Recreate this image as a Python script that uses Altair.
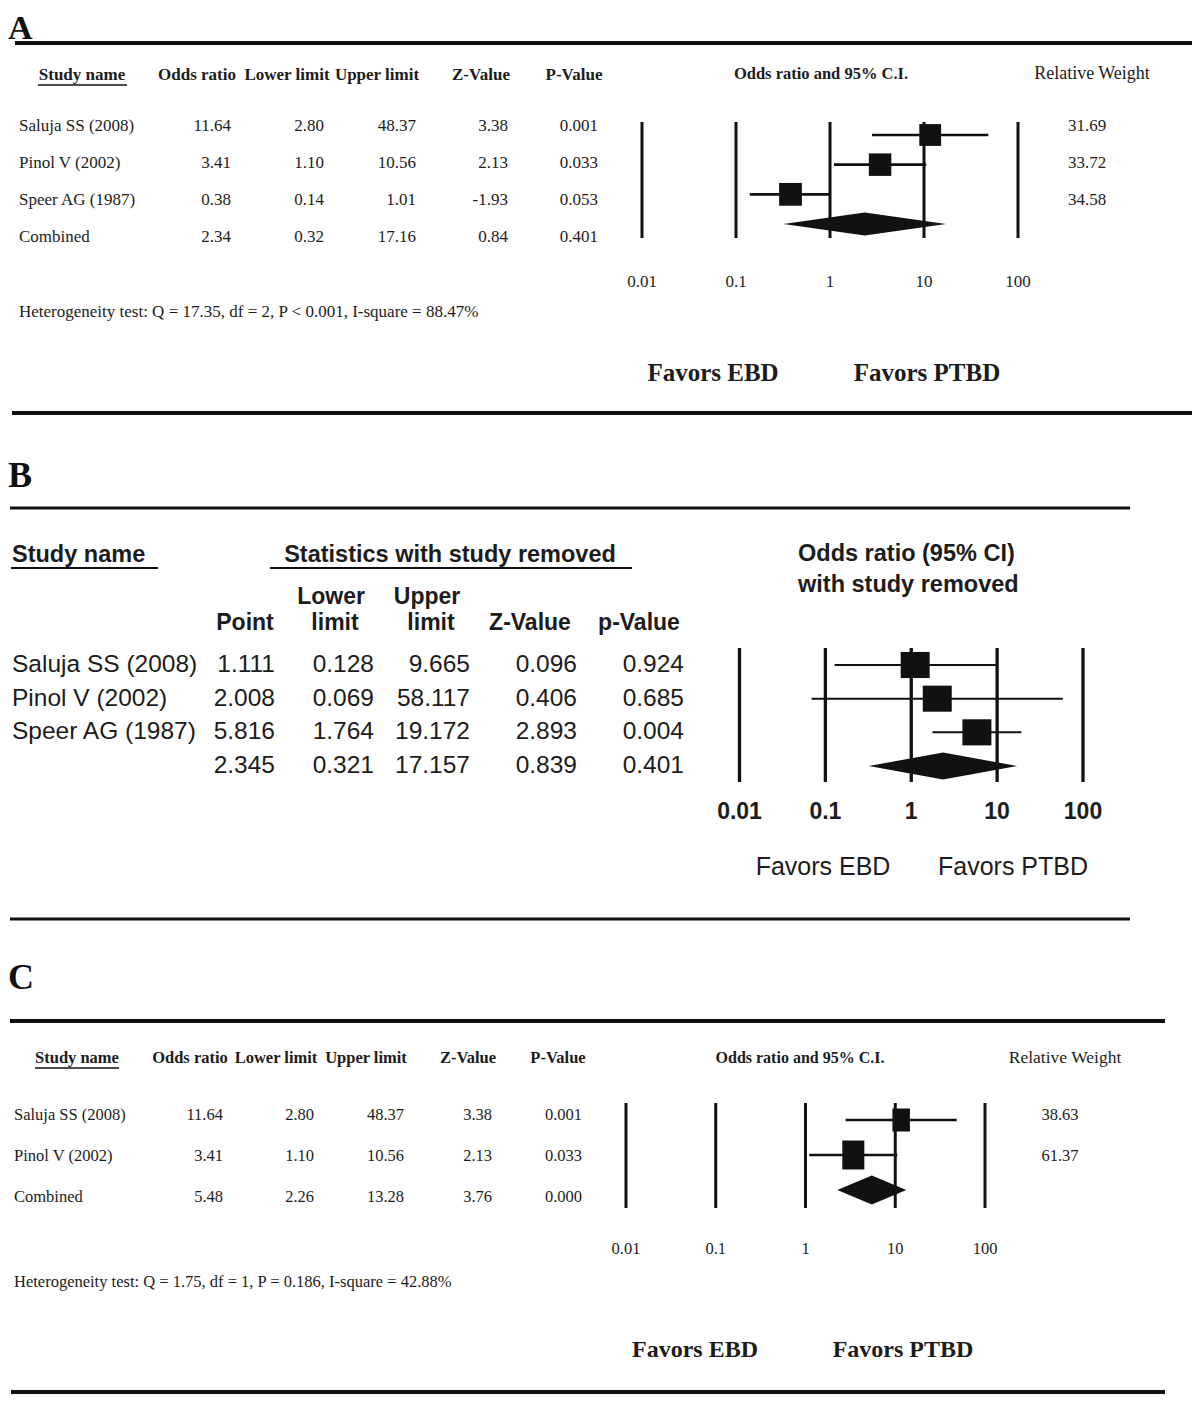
import altair as alt
import pandas as pd

# ---------------- data ----------------
panel_letters = ["A", "B", "C"]
ticks = [0.01, 0.1, 1, 10, 100]
tick_labels = ["0.01", "0.1", "1", "10", "100"]
favors = ["Favors EBD", "Favors PTBD"]

headers_AC = ["Study name", "Odds ratio", "Lower limit", "Upper limit", "Z-Value", "P-Value"]
forest_title_AC = "Odds ratio and 95% C.I."
weight_title = "Relative Weight"

studies_A = ["Saluja SS (2008)", "Pinol V (2002)", "Speer AG (1987)", "Combined"]
or_A = [11.64, 3.41, 0.38, 2.34]
lo_A = [2.80, 1.10, 0.14, 0.32]
hi_A = [48.37, 10.56, 1.01, 17.16]
z_A = [3.38, 2.13, -1.93, 0.84]
p_A = [0.001, 0.033, 0.053, 0.401]
w_A = [31.69, 33.72, 34.58]
het_A = "Heterogeneity test: Q = 17.35, df = 2, P < 0.001, I-square = 88.47%"

headers_B_top = ["Study name", "Statistics with study removed"]
headers_B_line1 = ["Lower", "Upper"]
headers_B_line2 = ["Point", "limit", "limit", "Z-Value", "p-Value"]
forest_title_B = ["Odds ratio (95% CI)", "with study removed"]
studies_B = ["Saluja SS (2008)", "Pinol V (2002)", "Speer AG (1987)", ""]
pt_B = [1.111, 2.008, 5.816, 2.345]
lo_B = [0.128, 0.069, 1.764, 0.321]
hi_B = [9.665, 58.117, 19.172, 17.157]
z_B = [0.096, 0.406, 2.893, 0.839]
p_B = [0.924, 0.685, 0.004, 0.401]

studies_C = ["Saluja SS (2008)", "Pinol V (2002)", "Combined"]
or_C = [11.64, 3.41, 5.48]
lo_C = [2.80, 1.10, 2.26]
hi_C = [48.37, 10.56, 13.28]
z_C = [3.38, 2.13, 3.76]
p_C = [0.001, 0.033, 0.000]
w_C = [38.63, 61.37]
het_C = "Heterogeneity test: Q = 1.75, df = 1, P = 0.186, I-square = 42.88%"

# ---------------- helpers ----------------
OFF = 8
INK = "#111111"
TXT = "#1c1c1c"
SERIF = "Liberation Serif"
SANS = "Liberation Sans"


def P(v):
    return v - OFF


def one(t=""):
    return alt.Data(values=[{"t": t}])


def label(text, x, y, size, font, bold=False, align="center", color=TXT, baseline="middle"):
    return alt.Chart(one(text)).mark_text(
        font=font, fontSize=size, fontWeight="bold" if bold else "normal",
        align=align, baseline=baseline, color=color
    ).encode(x=alt.value(P(x)), y=alt.value(P(y)), text="t:N")


def hline(x1, x2, y, w):
    return alt.Chart(one()).mark_rule(color=INK, strokeWidth=w).encode(
        x=alt.value(P(x1)), x2=alt.value(P(x2)), y=alt.value(P(y)))


def rows_scale(n, y0, y1):
    return alt.Scale(domain=[0, n - 1], range=[P(y0), P(y1)], zero=False, nice=False)


def column(texts, x, yscale, size, font, align="right", color=TXT):
    df = pd.DataFrame({"row": list(range(len(texts))), "t": texts})
    return alt.Chart(df).mark_text(
        font=font, fontSize=size, align=align, baseline="middle", color=color
    ).encode(x=alt.value(P(x)), y=alt.Y("row:Q", scale=yscale, axis=None), text="t:N")


def forest(pt, lo, hi, n_st, weights, xr, yr, vy, tick_y, tick_font, tick_size,
           tick_bold, line_w, ci_w, shape, size_k, const_size, diamond_px):
    n = len(pt)
    xs = alt.Scale(type="log", domain=[0.01, 100], range=[P(xr[0]), P(xr[1])], nice=False)
    ys = rows_scale(n, yr[0], yr[1])
    out = []
    tdf = pd.DataFrame({"v": ticks, "lab": tick_labels})
    out.append(alt.Chart(tdf).mark_rule(color=INK, strokeWidth=line_w).encode(
        x=alt.X("v:Q", scale=xs, axis=None), y=alt.value(P(vy[0])), y2=alt.value(P(vy[1]))))
    out.append(alt.Chart(tdf).mark_text(
        font=tick_font, fontSize=tick_size, fontWeight="bold" if tick_bold else "normal",
        baseline="middle", color=TXT).encode(
        x=alt.X("v:Q", scale=xs, axis=None), y=alt.value(P(tick_y)), text="lab:N"))
    sdf = pd.DataFrame({"row": list(range(n_st)), "pt": pt[:n_st], "lo": lo[:n_st], "hi": hi[:n_st]})
    if weights:
        sdf["w"] = weights
        size_enc = alt.Size("w:Q", scale=alt.Scale(domain=[0, 100], range=[0, size_k]), legend=None)
    else:
        size_enc = alt.value(const_size)
    out.append(alt.Chart(sdf).mark_rule(color=INK, strokeWidth=ci_w).encode(
        x=alt.X("lo:Q", scale=xs, axis=None), x2="hi:Q",
        y=alt.Y("row:Q", scale=ys, axis=None)))
    out.append(alt.Chart(sdf).mark_point(
        shape=shape, filled=True, opacity=1, color=INK, strokeWidth=0).encode(
        x=alt.X("pt:Q", scale=xs, axis=None), y=alt.Y("row:Q", scale=ys, axis=None), size=size_enc))
    c = n - 1
    h = diamond_px / ((yr[1] - yr[0]) / (n - 1))
    ddf = pd.DataFrame({"x": [lo[c], pt[c], hi[c]], "y": [c, c - h, c], "y2": [c, c + h, c]})
    out.append(alt.Chart(ddf).mark_area(color=INK, opacity=1, interpolate="linear").encode(
        x=alt.X("x:Q", scale=xs, axis=None),
        y=alt.Y("y:Q", scale=ys, axis=None), y2="y2:Q"))
    return out


layers = []

# ================= Panel A =================
layers.append(label(panel_letters[0], OFF, 39, 34, SERIF, bold=True, align="left", color=INK,
                    baseline="alphabetic"))
layers.append(hline(15, 1197, 43, 4))
layers.append(hline(12, 1196, 413, 4))
for txt, cx in zip(headers_AC, [82, 197, 287, 377, 481, 574]):
    layers.append(label(txt, cx, 75, 17, SERIF, bold=True))
layers.append(hline(38, 127, 85, 1.5))
layers.append(label(forest_title_AC, 821, 74, 16.5, SERIF, bold=True))
layers.append(label(weight_title, 1092, 74, 18, SERIF))
ysA = rows_scale(4, 126, 237)
layers.append(column(studies_A, 19, ysA, 17, SERIF, align="left"))
for vals, xr, fmt in [(or_A, 231, "{:.2f}"), (lo_A, 324, "{:.2f}"), (hi_A, 416, "{:.2f}"),
                      (z_A, 508, "{:.2f}"), (p_A, 598, "{:.3f}")]:
    layers.append(column([fmt.format(v) for v in vals], xr, ysA, 17, SERIF))
layers.append(column(["{:.2f}".format(w) for w in w_A], 1087, ysA, 17, SERIF, align="center"))
layers += forest(or_A, lo_A, hi_A, 3, w_A, xr=(642, 1018), yr=(135, 224), vy=(122, 238),
                 tick_y=282, tick_font=SERIF, tick_size=17, tick_bold=False,
                 line_w=3, ci_w=2.7, shape="M-1,-1L1,-1L1,1L-1,1Z", size_k=1500,
                 const_size=None, diamond_px=11.5)
layers.append(label(het_A, 19, 312, 17, SERIF, align="left"))
layers.append(label(favors[0], 713, 373, 25, SERIF, bold=True))
layers.append(label(favors[1], 927, 373, 25, SERIF, bold=True))

# ================= Panel B =================
layers.append(label(panel_letters[1], OFF, 487, 36, SERIF, bold=True, align="left", color=INK,
                    baseline="alphabetic"))
layers.append(hline(10, 1130, 508, 3))
layers.append(hline(10, 1130, 919, 3))
layers.append(label(headers_B_top[0], 12, 555, 23.5, SANS, bold=True, align="left"))
layers.append(hline(11, 158, 568, 2))
layers.append(label(headers_B_top[1], 450, 555, 23.5, SANS, bold=True))
layers.append(hline(270, 632, 568, 2))
for txt, cx in zip(headers_B_line1, [331, 427]):
    layers.append(label(txt, cx, 597, 23, SANS, bold=True))
for txt, cx in zip(headers_B_line2, [245, 335, 431, 530, 639]):
    layers.append(label(txt, cx, 623, 23, SANS, bold=True))
layers.append(label(forest_title_B[0], 798, 554, 23.5, SANS, bold=True, align="left"))
layers.append(label(forest_title_B[1], 798, 585, 23.5, SANS, bold=True, align="left"))
ysB = rows_scale(4, 665, 766)
layers.append(column(studies_B, 12, ysB, 24.5, SANS, align="left"))
for vals, xr in [(pt_B, 275), (lo_B, 374), (hi_B, 470), (z_B, 577), (p_B, 684)]:
    layers.append(column(["{:.3f}".format(v) for v in vals], xr, ysB, 24.5, SANS))
layers += forest(pt_B, lo_B, hi_B, 3, None, xr=(739.5, 1083), yr=(665, 766), vy=(648, 782),
                 tick_y=812, tick_font=SANS, tick_size=23, tick_bold=True,
                 line_w=3.3, ci_w=2, shape="M-1,-0.9L1,-0.9L1,0.9L-1,0.9Z", size_k=None,
                 const_size=841, diamond_px=13.5)
layers.append(label(favors[0], 823, 867, 25, SANS))
layers.append(label(favors[1], 1013, 867, 25, SANS))

# ================= Panel C =================
layers.append(label(panel_letters[2], OFF, 989, 36, SERIF, bold=True, align="left", color=INK,
                    baseline="alphabetic"))
layers.append(hline(10, 1165, 1021, 4))
layers.append(hline(11, 1165, 1392, 4))
for txt, cx in zip(headers_AC, [77, 190, 276, 366, 468, 558]):
    layers.append(label(txt, cx, 1058, 16.5, SERIF, bold=True))
layers.append(hline(35, 119, 1068, 1.5))
layers.append(label(forest_title_AC, 800, 1058, 16, SERIF, bold=True))
layers.append(label(weight_title, 1065, 1058, 17.5, SERIF))
ysC = rows_scale(3, 1115, 1197)
layers.append(column(studies_C, 14, ysC, 16.5, SERIF, align="left"))
for vals, xr, fmt in [(or_C, 223, "{:.2f}"), (lo_C, 314, "{:.2f}"), (hi_C, 404, "{:.2f}"),
                      (z_C, 492, "{:.2f}"), (p_C, 582, "{:.3f}")]:
    layers.append(column([fmt.format(v) for v in vals], xr, ysC, 16.5, SERIF))
layers.append(column(["{:.2f}".format(w) for w in w_C], 1060, ysC, 16.5, SERIF, align="center"))
layers += forest(or_C, lo_C, hi_C, 2, w_C, xr=(626, 985), yr=(1120, 1190), vy=(1103, 1208),
                 tick_y=1249, tick_font=SERIF, tick_size=16.5, tick_bold=False,
                 line_w=3, ci_w=2.7, shape="M-0.76,-1L0.76,-1L0.76,1L-0.76,1Z", size_k=1370,
                 const_size=None, diamond_px=14.5)
layers.append(label(het_C, 14, 1282, 16.5, SERIF, align="left"))
layers.append(label(favors[0], 695, 1350, 24, SERIF, bold=True))
layers.append(label(favors[1], 903, 1350, 24, SERIF, bold=True))

chart = alt.layer(*layers).resolve_scale(
    x="independent", y="independent", size="independent"
).properties(
    width=1184, height=1386, padding=0, background="white",
    autosize=alt.AutoSizeParams(type="none")
).configure_view(stroke=None)

chart.save("out.html", embed_options={"renderer": "svg", "actions": False})
